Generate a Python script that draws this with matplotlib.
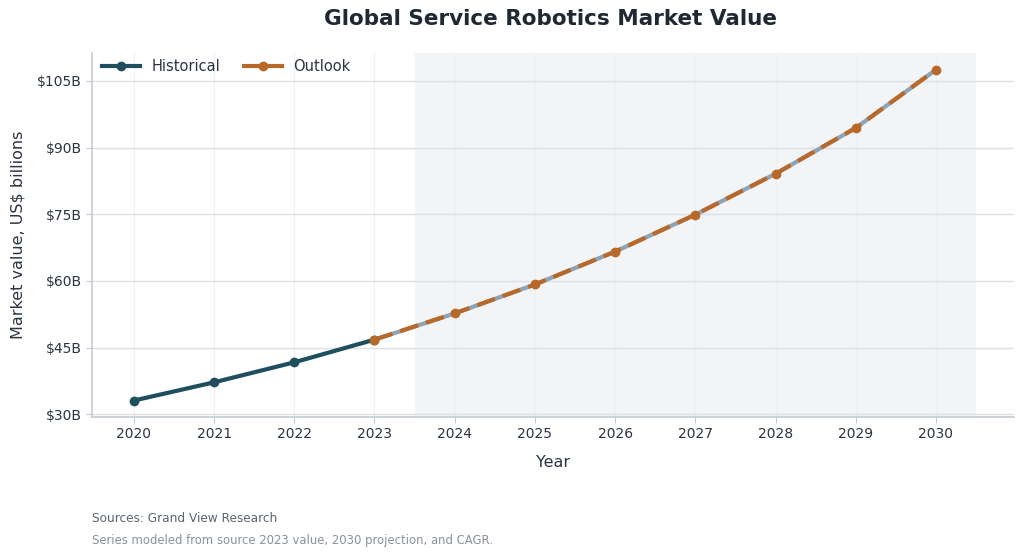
import matplotlib
matplotlib.use("Agg")
import matplotlib.pyplot as plt
from matplotlib.ticker import FuncFormatter

# data
hist_years = [2020, 2021, 2022, 2023]
hist_values = [33.1, 37.2, 41.7, 46.8]
outlook_years = [2023, 2024, 2025, 2026, 2027, 2028, 2029, 2030]
outlook_values = [46.8, 52.7, 59.2, 66.6, 74.9, 84.1, 94.4, 107.5]
y_ticks = [30, 45, 60, 75, 90, 105]

TEXT = "#2b3440"
SPINE = "#c3cad4"
HIST = "#1f4e5f"
OUT = "#b8692a"

plt.rcParams["font.family"] = ["DejaVu Sans"]

fig = plt.figure(figsize=(10.24, 5.56), dpi=100)
ax = fig.add_axes([0.09, 0.25, 0.900, 0.655])

# forecast shading
ax.axvspan(2023.5, 2030.5, color="#f3f4f6", zorder=0, lw=0)

ax.plot(hist_years, hist_values, color=HIST, lw=3, marker="o", ms=6,
        label="Historical", zorder=4)
ax.plot(outlook_years, outlook_values, color="#8ea3b4", lw=3, zorder=3)
ax.plot(outlook_years, outlook_values, color=OUT, lw=3, ls=(0, (4.5, 2)),
        marker="o", ms=6, zorder=5)
ax.plot([], [], color=OUT, lw=3, marker="o", ms=6, label="Outlook")

ax.set_xlim(2019.48, 2030.97)
ax.set_ylim(29.4, 111.3)
ax.set_xticks(range(2020, 2031))
ax.set_yticks(y_ticks)
ax.yaxis.set_major_formatter(FuncFormatter(lambda v, p: f"${v:.0f}B"))

ax.grid(axis="y", color="#dcdfe5", lw=1)
ax.grid(axis="x", color="#eef0f3", lw=0.8)
ax.set_axisbelow(True)

for s in ["top", "right"]:
    ax.spines[s].set_visible(False)
for s in ["left", "bottom"]:
    ax.spines[s].set_color(SPINE)
    ax.spines[s].set_linewidth(1.2)
ax.tick_params(colors=TEXT, labelsize=10, length=4, color=SPINE)

ax.set_xlabel("Year", fontsize=11.5, color=TEXT, labelpad=10)
ax.set_ylabel("Market value, US$ billions", fontsize=11.5, color=TEXT, labelpad=8)

fig.suptitle("Global Service Robotics Market Value", fontsize=15.5, fontweight="bold",
             color="#1f2833", x=0.538, y=0.983)

leg = ax.legend(loc="upper left", ncol=2, frameon=False, fontsize=10.5,
                handlelength=2.6, columnspacing=1.6, borderaxespad=0.3,
                bbox_to_anchor=(0.0, 1.01))
for t in leg.get_texts():
    t.set_color(TEXT)

fig.text(0.09, 0.061, "Sources: Grand View Research", fontsize=8.7, color="#5b6470")
fig.text(0.09, 0.021, "Series modeled from source 2023 value, 2030 projection, and CAGR.",
         fontsize=8.4, color="#8a919b")

fig.savefig("out.png", dpi=100)
